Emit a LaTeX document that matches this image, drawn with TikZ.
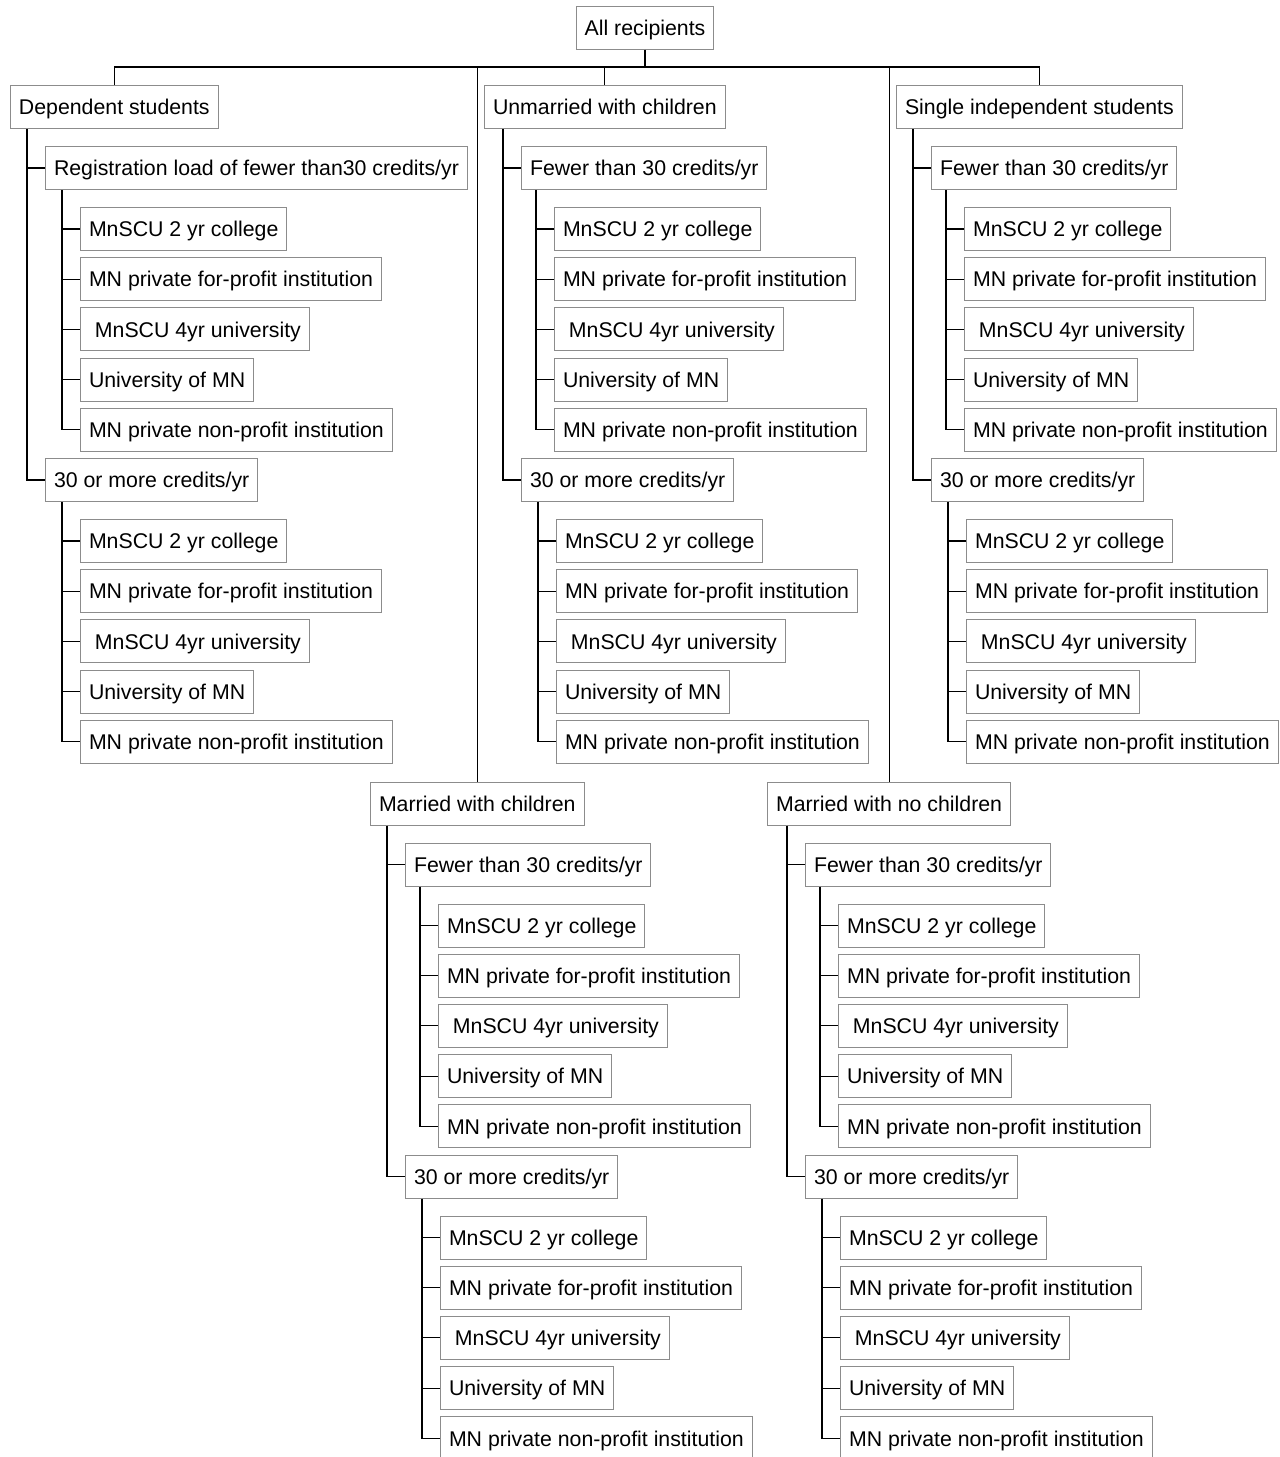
\documentclass[tikz,border=0pt]{standalone}
\usepackage{fontspec}
\setmainfont{Liberation Sans}
\definecolor{boxgray}{RGB}{140,140,140}
\tikzset{
  box/.style={draw=boxgray, line width=1pt, anchor=west, inner xsep=8.5pt, inner ysep=13.8pt,
    text height=15.4pt, text depth=0pt, font=\fontsize{21.3}{26}\selectfont},
  conn/.style={black, line width=1.1pt}
}
% five institution boxes under a credit-load box
\newcommand{\instgroup}[4]{%
  \foreach \txt [count=\k] in {MnSCU 2 yr college, MN private for-profit institution,
      \ MnSCU 4yr university, University of MN, MN private non-profit institution}
    \node[box] (#2\k) at (#3, #4+50.2*\k-50.2) {\txt};
  \draw[conn] ([xshift=-18pt]#21.west |- #1.south) |- (#25.west);
  \foreach \k in {1,...,4}
    \draw[conn] ([xshift=-18pt]#2\k.west) -- (#2\k.west);
}
% one recipient category with its two credit-load boxes
\newcommand{\category}[8]{%
  \node[box] (#1) at (#3, #4) {#2};
  \node[box] (#1lo) at (#5, #4+61) {#8};
  \node[box] (#1hi) at (#5, #4+373) {30 or more credits/yr};
  \draw[conn] ([xshift=-18pt]#1lo.west |- #1.south) |- (#1hi.west);
  \draw[conn] ([xshift=-18pt]#1lo.west) -- (#1lo.west);
  \instgroup{#1lo}{#1loi}{#6}{#4+122}
  \instgroup{#1hi}{#1hii}{#7}{#4+434}
}

\begin{document}
\begin{tikzpicture}[x=1pt, y=-1pt]
  \useasboundingbox (0,0) rectangle (1280,1457);

  \node[box, anchor=center] (root) at (645, 27.5) {All recipients};
  \coordinate (bus) at (0, 67);

  \category{dep}{Dependent students}{10}{107}{45}{80}{80}{Registration load of fewer than30 credits/yr}
  \category{unm}{Unmarried with children}{484}{107}{521}{554}{556}{Fewer than 30 credits/yr}
  \category{sgl}{Single independent students}{896}{107}{931}{964}{966}{Fewer than 30 credits/yr}
  \category{mwc}{Married with children}{370}{803.5}{405}{438}{440}{Fewer than 30 credits/yr}
  \category{mnc}{Married with no children}{767}{803.5}{805}{838}{840}{Fewer than 30 credits/yr}

  \draw[conn] (root.south) -- (root.south |- bus);
  \draw[conn] (dep.north) |- (sgl.north |- bus) -- (sgl.north);
  \foreach \n in {unm, mwc, mnc}
    \draw[conn] (\n.north |- bus) -- (\n.north);
\end{tikzpicture}
\end{document}
